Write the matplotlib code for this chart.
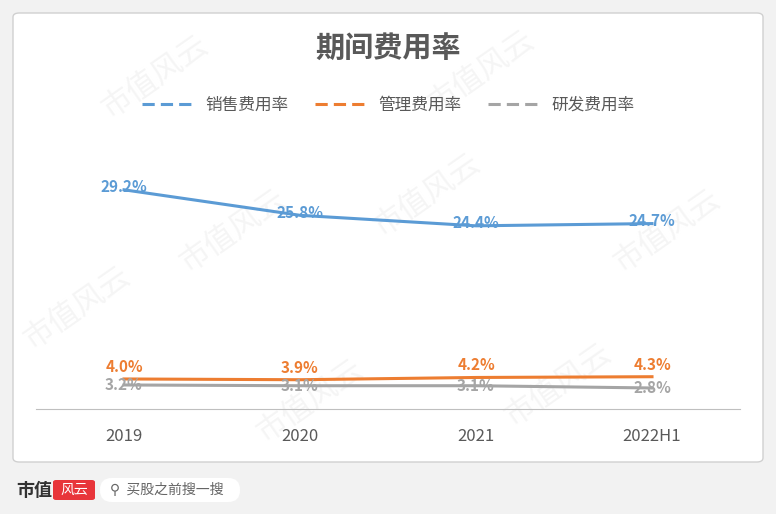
import matplotlib.pyplot as plt
from matplotlib import font_manager
from matplotlib.patches import FancyBboxPatch
from matplotlib.lines import Line2D

cjk = sorted({f.name for f in font_manager.fontManager.ttflist if "Sans CJK" in f.name})
pref = [n for n in ("Noto Sans CJK SC", "Noto Sans CJK JP") if n in cjk] or cjk[:1]
plt.rcParams["font.family"] = pref[:1] + ["DejaVu Sans"]

categories = ["2019", "2020", "2021", "2022H1"]
sales = [29.2, 25.8, 24.4, 24.7]
admin = [4.0, 3.9, 4.2, 4.3]
rnd = [3.2, 3.1, 3.1, 2.8]

BLUE = "#5B9BD5"
ORANGE = "#ED7D31"
GRAY = "#A5A5A5"

W, H = 776, 514
fig = plt.figure(figsize=(W / 100, H / 100), dpi=100)
fig.patch.set_facecolor("#F2F2F2")

fig.add_artist(FancyBboxPatch((13 / W, (H - 462) / H), 750 / W, 449 / H,
               boxstyle="round,pad=0,rounding_size=0.008", transform=fig.transFigure,
               facecolor="white", edgecolor="#D0D0D0", lw=1.0, zorder=-2))

# watermarks (behind the axes)
for x, y in [(0.2, 0.85), (0.62, 0.86), (0.1, 0.4), (0.3, 0.55), (0.55, 0.62),
             (0.86, 0.55), (0.4, 0.22), (0.72, 0.25)]:
    fig.text(x, y, "市值风云", rotation=35, fontsize=22, color="#F5F5F5",
             ha="center", va="center", zorder=-1)

ax = fig.add_axes([36 / W, (H - 409) / H, 704 / W, 259 / H])
ax.set_facecolor("none")
x = list(range(len(categories)))
ax.plot(x, sales, color=BLUE, lw=2.2)
ax.plot(x, admin, color=ORANGE, lw=2.2)
ax.plot(x, rnd, color=GRAY, lw=2.2)
ax.set_xlim(-0.5, 3.5)
ax.set_ylim(0, 34.5)
ax.set_yticks([])
ax.set_xticks(x)
ax.set_xticklabels(categories, fontsize=12, color="#595959")
ax.tick_params(axis="x", length=0, pad=14)
for sp in ("top", "right", "left"):
    ax.spines[sp].set_visible(False)
ax.spines["bottom"].set_color("#BFBFBF")

for i in x:
    ax.annotate(f"{sales[i]:.1f}%", (i, sales[i]), xytext=(0, 2), textcoords="offset points",
                ha="center", va="center", color=BLUE, fontsize=11, fontweight="bold")
    ax.annotate(f"{admin[i]:.1f}%", (i, admin[i]), xytext=(0, 3), textcoords="offset points",
                ha="center", va="bottom", color=ORANGE, fontsize=11, fontweight="bold")
    ax.annotate(f"{rnd[i]:.1f}%", (i, rnd[i]), xytext=(0, 0), textcoords="offset points",
                ha="center", va="center", color=GRAY, fontsize=11, fontweight="bold")

fig.text(0.5, (H - 48) / H, "期间费用率", ha="center", va="center",
         fontsize=21, fontweight="bold", color="#595959")

handles = [Line2D([], [], color=c, lw=2.2, ls=(0, (4, 2))) for c in (BLUE, ORANGE, GRAY)]
fig.legend(handles, ["销售费用率", "管理费用率", "研发费用率"], loc="center",
           bbox_to_anchor=(0.5, (H - 105) / H), ncol=3, frameon=False, fontsize=12,
           labelcolor="#595959", handlelength=3, columnspacing=1.6)

# footer
fig.text(16 / W, (H - 490) / H, "市值", fontsize=13, fontweight="bold", color="#333333", va="center")
fig.add_artist(FancyBboxPatch((53 / W, (H - 500) / H), 42 / W, 20 / H,
               boxstyle="round,pad=0,rounding_size=0.004", transform=fig.transFigure,
               facecolor="#E8353A", edgecolor="none"))
fig.text(74 / W, (H - 490) / H, "风云", fontsize=10, color="white", ha="center", va="center",
         style="italic")
fig.add_artist(FancyBboxPatch((100 / W, (H - 502) / H), 140 / W, 24 / H,
               boxstyle="round,pad=0,rounding_size=0.015", transform=fig.transFigure,
               facecolor="white", edgecolor="none", mutation_aspect=W / H))
fig.text(110 / W, (H - 490) / H, "⚲  买股之前搜一搜", fontsize=10, color="#666666", va="center")

fig.savefig("out.png", dpi=100, facecolor=fig.get_facecolor())
